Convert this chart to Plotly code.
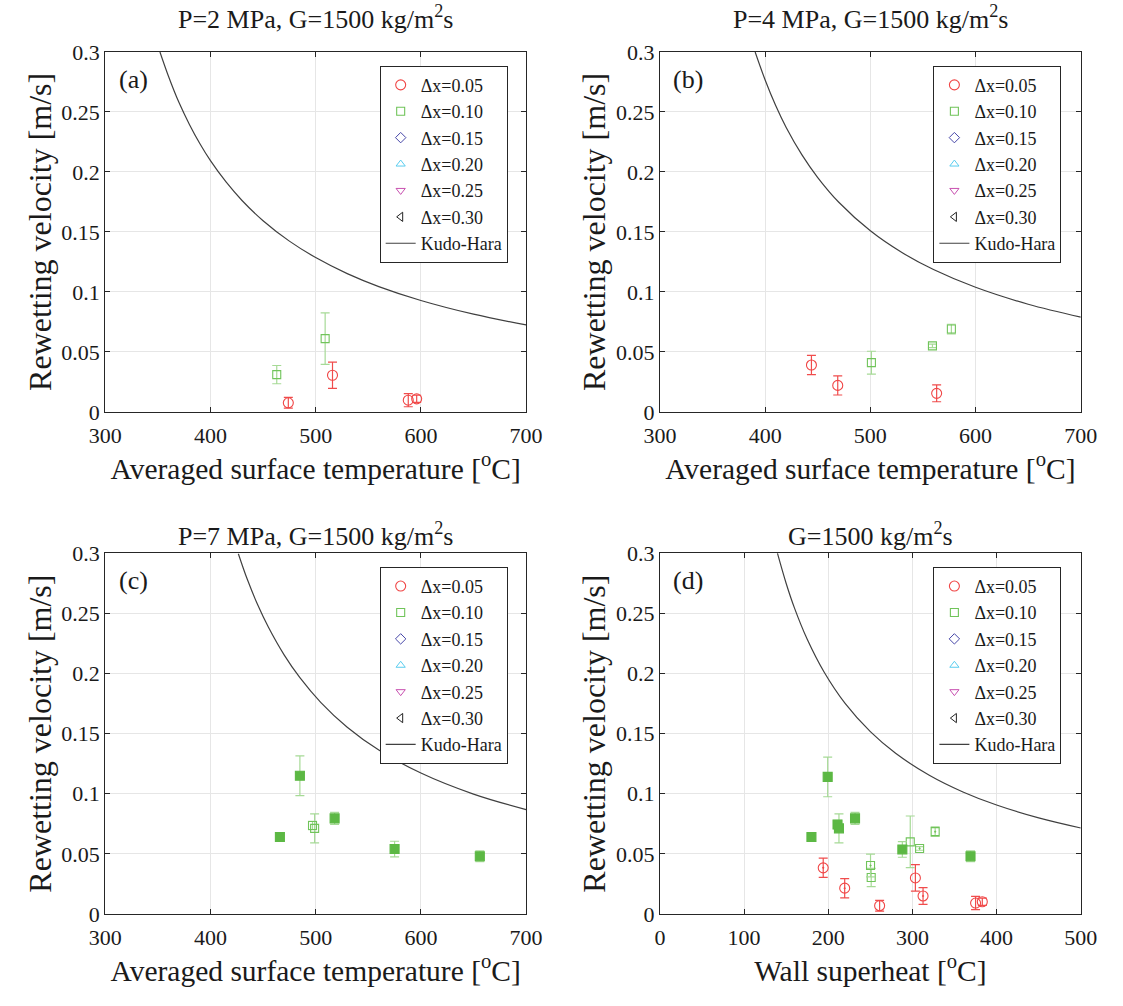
import plotly.graph_objects as go

# ---------------- data ----------------
# (a) P=2 MPa
a_red_T = [474, 516, 588, 596]
a_red_v = [0.0075, 0.0305, 0.0097, 0.0108]
a_red_e = [0.0045, 0.011, 0.0055, 0.003]
a_grn_T = [463, 509]
a_grn_v = [0.031, 0.061]
a_grn_e = [0.0076, 0.0215]
a_kh_T = [352, 360, 370, 380, 390, 400, 415, 430, 450, 475, 500, 530, 560, 600, 650, 700]
a_kh_v = [0.300, 0.280, 0.258, 0.2396, 0.2235, 0.2094, 0.1914, 0.1762, 0.1593, 0.1423,
          0.1286, 0.1152, 0.1044, 0.0928, 0.0814, 0.0725]

# (b) P=4 MPa
b_red_T = [444, 469, 563]
b_red_v = [0.039, 0.022, 0.0154]
b_red_e = [0.008, 0.008, 0.007]
b_grn_T = [501, 559, 577]
b_grn_v = [0.041, 0.055, 0.069]
b_grn_e = [0.0095, 0.0015, 0.004]
b_kh_T = [390.5, 400, 410, 420, 435, 450, 470, 500, 530, 560, 600, 650, 700]
b_kh_v = [0.300, 0.2767, 0.2554, 0.2371, 0.2142, 0.1953, 0.1747, 0.1509, 0.1328, 0.1186,
          0.1038, 0.0897, 0.079]

# (c) P=7 MPa
c_fill_T = [466, 485, 518, 575, 656]
c_fill_v = [0.064, 0.115, 0.0795, 0.054, 0.048]
c_fill_e = [0.001, 0.0165, 0.005, 0.0065, 0.0045]
c_open_T = [497, 499]
c_open_v = [0.0736, 0.0712]
c_open_e = [0.0035, 0.012]
c_kh_T = [426.5, 435, 445, 455, 470, 485, 505, 530, 560, 600, 650, 700]
c_kh_v = [0.2996, 0.2783, 0.2569, 0.2386, 0.2155, 0.1965, 0.1758, 0.1553, 0.1363, 0.1172,
          0.0997, 0.0868]

# (d) wall superheat
d_red_plain_x = [261, 303.5, 375, 383]
d_red_plain_v = [0.0069, 0.030, 0.0091, 0.0102]
d_red_plain_e = [0.0045, 0.011, 0.0055, 0.003]
d_red_dot_x = [194, 219.5, 312.6]
d_red_dot_v = [0.0384, 0.0215, 0.015]
d_red_dot_e = [0.008, 0.008, 0.007]
d_grn_plain_x = [251, 297.4]
d_grn_plain_v = [0.0303, 0.060]
d_grn_plain_e = [0.0076, 0.0215]
d_grn_dot_x = [250.2, 308.5, 327]
d_grn_dot_v = [0.0403, 0.0545, 0.0685]
d_grn_dot_e = [0.0095, 0.0015, 0.004]
d_grn_fill_x = [180, 199.3, 211, 212.7, 231.8, 288, 369]
d_grn_fill_v = [0.064, 0.114, 0.0744, 0.0712, 0.0795, 0.0537, 0.048]
d_grn_fill_e = [0.001, 0.0165, 0.0035, 0.012, 0.005, 0.0065, 0.0045]
d_kh_x = [139.6, 150, 160, 175, 195, 220, 250, 280, 320, 360, 400, 450, 500]
d_kh_v = [0.300, 0.2748, 0.2541, 0.2284, 0.2012, 0.1751, 0.1516, 0.1336, 0.1154, 0.1015,
          0.0906, 0.0799, 0.0715]

titles = ["P=2 MPa, G=1500 kg/m<sup>2</sup>s", "P=4 MPa, G=1500 kg/m<sup>2</sup>s",
          "P=7 MPa, G=1500 kg/m<sup>2</sup>s", "G=1500 kg/m<sup>2</sup>s"]
panel_labels = ["(a)", "(b)", "(c)", "(d)"]
legend_names = ["\u0394x=0.05", "\u0394x=0.10", "\u0394x=0.15", "\u0394x=0.20",
                "\u0394x=0.25", "\u0394x=0.30", "Kudo-Hara"]
y_tickvals = [0, 0.05, 0.1, 0.15, 0.2, 0.25, 0.3]
y_ticktext = ["0", "0.05", "0.1", "0.15", "0.2", "0.25", "0.3"]

# ---------------- style ----------------
FONT = "Liberation Serif"
TXT = "#1a1a1a"
RED = "#f04646"
RED_E = "#f04c4c"
GRN = "#5cb844"
GRN_OPEN = "#70c45a"
GRN_E = "#a6da96"
W, H = 1123, 1006

fig = go.Figure()

def xy(i):
    return ("x" if i == 1 else f"x{i}"), ("y" if i == 1 else f"y{i}")

def lg(i):
    return "legend" if i == 1 else f"legend{i}"

def add_pts(i, x, y, e, symbol, color, ecolor, size, name, show, lw=1.1):
    xa, ya = xy(i)
    fig.add_trace(go.Scatter(
        x=x, y=y, mode="markers", name=name, showlegend=show, legend=lg(i),
        xaxis=xa, yaxis=ya,
        marker=dict(symbol=symbol, color=color, size=size, line=dict(color=color, width=lw)),
        error_y=dict(type="data", array=e, color=ecolor, thickness=1.2, width=4.5),
    ))

def add_dummies(i):
    xa, ya = xy(i)
    specs = [("diamond-open", "#4646a8"), ("triangle-up-open", "#5acdef"),
             ("triangle-down-open", "#c850b0"), ("triangle-left-open", "#222222")]
    for (sym, col), nm in zip(specs, legend_names[2:6]):
        fig.add_trace(go.Scatter(x=[None], y=[None], mode="markers", name=nm,
                                 legend=lg(i), xaxis=xa, yaxis=ya,
                                 marker=dict(symbol=sym, color=col, size=8,
                                             line=dict(color=col, width=1))))

def add_kh(i, x, y):
    xa, ya = xy(i)
    fig.add_trace(go.Scatter(x=x, y=y, mode="lines", name=legend_names[6], legend=lg(i),
                             xaxis=xa, yaxis=ya,
                             line=dict(color="#404040", width=1.2, shape="spline", smoothing=1)))

# (a)
add_pts(1, a_red_T, a_red_v, a_red_e, "circle-open", RED, RED_E, 10, legend_names[0], True)
add_pts(1, a_grn_T, a_grn_v, a_grn_e, "square-open", GRN_OPEN, GRN_E, 8, legend_names[1], True)
add_dummies(1)
add_kh(1, a_kh_T, a_kh_v)
# (b)
add_pts(2, b_red_T, b_red_v, b_red_e, "circle-open", RED, RED_E, 10, legend_names[0], True)
add_pts(2, b_grn_T, b_grn_v, b_grn_e, "square-open", GRN_OPEN, GRN_E, 8, legend_names[1], True)
add_dummies(2)
add_kh(2, b_kh_T, b_kh_v)
# (c)
add_pts(3, [None], [None], None, "circle-open", RED, RED_E, 10, legend_names[0], True)
add_pts(3, c_open_T, c_open_v, c_open_e, "square-open", GRN_OPEN, GRN_E, 8, legend_names[1], True)
add_pts(3, c_fill_T, c_fill_v, c_fill_e, "square", GRN, GRN_E, 9, legend_names[1], False)
add_dummies(3)
add_kh(3, c_kh_T, c_kh_v)
# (d)
add_pts(4, d_red_plain_x, d_red_plain_v, d_red_plain_e, "circle-open", RED, RED_E, 10, legend_names[0], True)
add_pts(4, d_red_dot_x, d_red_dot_v, d_red_dot_e, "circle-open-dot", RED, RED_E, 10, legend_names[0], False)
add_pts(4, d_grn_plain_x, d_grn_plain_v, d_grn_plain_e, "square-open", GRN_OPEN, GRN_E, 8, legend_names[1], True)
add_pts(4, d_grn_dot_x, d_grn_dot_v, d_grn_dot_e, "square-open-dot", GRN_OPEN, GRN_E, 8, legend_names[1], False)
add_pts(4, d_grn_fill_x, d_grn_fill_v, d_grn_fill_e, "square", GRN, GRN_E, 9, legend_names[1], False)
add_dummies(4)
add_kh(4, d_kh_x, d_kh_v)

# ---------------- layout ----------------
def px_x(a, b):
    return [a / W, b / W]

def px_y(top, bot):
    return [1 - bot / H, 1 - top / H]

xdoms = [px_x(91, 525), px_x(663, 1097), px_x(91, 525), px_x(663, 1097)]
ydoms = [px_y(41, 410), px_y(41, 410), px_y(555, 925), px_y(555, 925)]
xtitles = ["Averaged surface temperature [<sup>o</sup>C]"] * 3 + ["Wall superheat [<sup>o</sup>C]"]
xranges = [[300, 700]] * 3 + [[0, 500]]
title_shift = [16, 16, 0, 0]

common = dict(showline=True, linecolor="#262626", linewidth=1, mirror="ticks",
              ticks="inside", ticklen=5, tickcolor="#262626", showgrid=True,
              gridcolor="#e6e6e6", gridwidth=1, zeroline=False,
              tickfont=dict(family=FONT, size=22, color=TXT))

layout = dict(width=W, height=H, margin=dict(l=0, r=0, t=0, b=0),
              plot_bgcolor="white", paper_bgcolor="white",
              font=dict(family=FONT, color=TXT), annotations=[])

for k in range(4):
    sx = "xaxis" if k == 0 else f"xaxis{k+1}"
    sy = "yaxis" if k == 0 else f"yaxis{k+1}"
    xa, ya = xy(k + 1)
    layout[sx] = dict(common, domain=xdoms[k], range=xranges[k], dtick=100, anchor=ya,
                      ticklabelstandoff=4,
                      title=dict(text=xtitles[k], font=dict(family=FONT, size=29.5, color=TXT), standoff=10))
    layout[sy] = dict(common, domain=ydoms[k], range=[0, 0.3], tickvals=y_tickvals,
                      ticktext=y_ticktext, anchor=xa,
                      title=dict(text="Rewetting velocity [m/s]", font=dict(family=FONT, size=32, color=TXT), standoff=0))
    lx = 374 if k in (0, 2) else 945
    ly = 55 if k < 2 else 569
    layout[lg(k + 1)] = dict(x=lx / W, y=1 - ly / H, xanchor="left", yanchor="top",
                             bgcolor="white", bordercolor="#262626", borderwidth=1,
                             font=dict(family=FONT, size=18, color=TXT),
                             tracegroupgap=0)
    cx = (xdoms[k][0] + xdoms[k][1]) / 2
    layout["annotations"].append(dict(text=titles[k], x=cx, y=ydoms[k][1], xref="paper", yref="paper",
                                      xanchor="center", yanchor="bottom", yshift=title_shift[k],
                                      showarrow=False, font=dict(family=FONT, size=26, color=TXT)))
    layout["annotations"].append(dict(text=panel_labels[k], x=xdoms[k][0] + 29 / W,
                                      y=ydoms[k][1] - 28 / H, xref="paper", yref="paper",
                                      xanchor="center", yanchor="middle", showarrow=False,
                                      font=dict(family=FONT, size=26, color=TXT)))

fig.update_layout(**layout)
fig.write_html("out.html")
